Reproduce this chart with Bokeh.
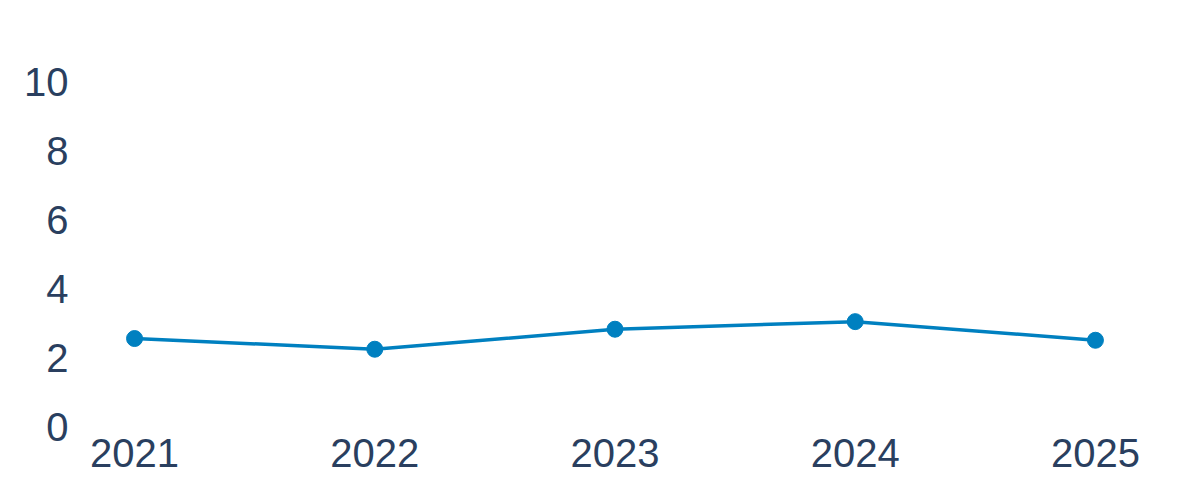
from bokeh.plotting import figure
from bokeh.models import Range1d, FixedTicker
from bokeh.embed import file_html
from bokeh.resources import INLINE

years = [2021, 2022, 2023, 2024, 2025]
values = [2.55, 2.24, 2.82, 3.04, 2.50]
y_ticks = [0, 2, 4, 6, 8, 10]

COLOR = "#0080c0"
TEXT = "#2a3f5f"
FONT = "Liberation Sans"

p = figure(
    frame_width=1090, frame_height=386,
    min_border_left=80, min_border_right=14, min_border_top=40, min_border_bottom=58,
    x_range=Range1d(2020.775, 2025.3125), y_range=Range1d(0, 11.19),
    output_backend="svg", toolbar_location=None,
)
p.line(years, values, line_color=COLOR, line_width=3.5)
p.scatter(years, values, size=16, fill_color=COLOR, line_color=COLOR)

p.xaxis.ticker = FixedTicker(ticks=years)
p.yaxis.ticker = FixedTicker(ticks=y_ticks)
for ax in (p.xaxis, p.yaxis):
    ax.axis_line_color = None
    ax.major_tick_line_color = None
    ax.minor_tick_line_color = None
    ax.major_label_text_font = FONT
    ax.major_label_text_font_size = "40px"
    ax.major_label_text_color = TEXT
p.yaxis.major_label_standoff = 6
p.xaxis.major_label_standoff = 6
p.xgrid.grid_line_color = None
p.ygrid.grid_line_color = None
p.outline_line_color = None

open("out.html", "w").write(file_html(p, INLINE))
